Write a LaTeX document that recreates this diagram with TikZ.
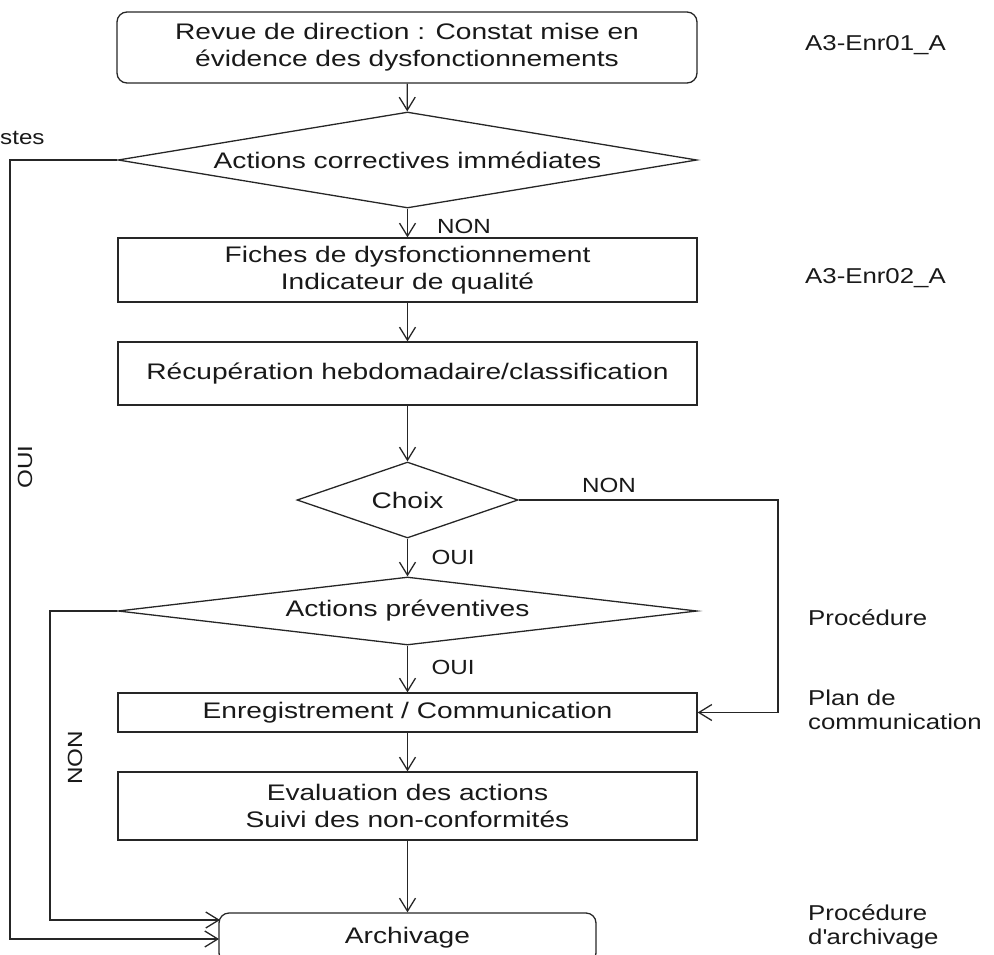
\documentclass[tikz,border=0pt]{standalone}
\usepackage{fontspec}
\setmainfont{Liberation Sans}[FakeStretch=1.18]
\newfontfamily\boxfont{Liberation Sans}[FakeStretch=1.25]
\newfontfamily\sidefont{Liberation Sans}[FakeStretch=1.2]
\usetikzlibrary{shapes.geometric,arrows.meta}
\begin{document}
\begin{tikzpicture}[x=1pt,y=-1pt,
  font=\fontsize{20.5}{27}\selectfont,
  every node/.style={text=black!90},
  box/.style={draw=black!85, line width=1.3pt, minimum width=579pt, inner sep=0pt, align=center,
    font=\boxfont\fontsize{22.5}{27}\selectfont},
  rbox/.style={box, rounded corners=10pt},
  dia/.style={draw=black!85, line width=1.3pt, diamond, inner sep=0pt, align=center,
    font=\boxfont\fontsize{22.5}{27}\selectfont},
  arr/.style={draw=black!85, line width=1.3pt, -{Straight Barb[length=13pt,width=16pt]}},
  side/.style={anchor=west, align=left, inner sep=0pt, font=\sidefont\fontsize{21.5}{24}\selectfont},
  lbl/.style={inner sep=0pt}
]
\useasboundingbox (0,0) rectangle (994,954);

% main flow
\node[rbox, minimum width=580pt, minimum height=71pt] (top) at (407,47.5)
  {Revue de direction : Constat mise en\\évidence des dysfonctionnements};
\node[dia, minimum width=579pt, minimum height=96pt, aspect=6] (d1) at (407.5,160)
  {Actions correctives immédiates};
\node[box, minimum height=64pt] (fiche) at (407.5,270)
  {Fiches de dysfonctionnement\\Indicateur de qualité};
\node[box, minimum height=63pt] (recup) at (407.5,373.5)
  {Récupération hebdomadaire/classification};
\node[dia, minimum width=221pt, minimum height=76pt, aspect=3] (choix) at (407.5,500)
  {Choix};
\node[dia, minimum width=579pt, minimum height=68pt, aspect=8.5] (d2) at (407.5,611)
  {Actions préventives};
\node[box, minimum height=39pt] (enr) at (407.5,712.5)
  {Enregistrement / Communication};
\node[box, minimum height=68pt] (eval) at (407.5,806)
  {Evaluation des actions\\Suivi des non-conformités};
\node[rbox, minimum width=377pt, minimum height=50pt] (arch) at (407.5,938)
  {Archivage};

% side notes
\node[side] (n1) at (805,45) {A3-Enr01\_A};
\node[side] (n2) at (805,278) {A3-Enr02\_A};
\node[side] (n3) at (808,618) {Procédure};
\node[side] (n4) at (808,710) {Plan de\\communication};
\node[side] (n5) at (808,927) {Procédure\\d\textquotesingle archivage};
\node[lbl, anchor=west] (cut) at (0,138) {stes};

% vertical flow connectors
\draw[arr] (top) -- (d1);
\draw[arr] (d1) -- (fiche);
\draw[arr] (fiche) -- (recup);
\draw[arr] (recup) -- (choix);
\draw[arr] (choix) -- (d2);
\draw[arr] (d2) -- (enr);
\draw[arr] (enr) -- (eval);
\draw[arr] (eval) -- (arch);

% labels on flow
\node[lbl] (lnon1) at (464,226) {NON};
\node[lbl] (loui1) at (453,557) {OUI};
\node[lbl] (loui2) at (453,667) {OUI};
\node[lbl] (lnon2) at (609,485) {NON};

% branch: Choix NON -> Enregistrement
\coordinate (cr) at (778,500);
\draw[arr] (choix.east) -- (cr) |- (enr.east);

% branch: actions correctives OUI -> Archivage
\coordinate (c1) at (10,160);
\coordinate (c1b) at (10,939);
\coordinate (a1) at (219,939);
\draw[arr] (d1.west) -- (c1) -- (c1b) -- (a1);
\node[lbl, rotate=90] (loui3) at (25,467) {OUI};

% branch: actions preventives NON -> Archivage
\coordinate (c2) at (50,611);
\coordinate (c2b) at (50,920);
\coordinate (a2) at (220,920);
\draw[arr] (d2.west) -- (c2) -- (c2b) -- (a2);
\node[lbl, rotate=90] (lnon3) at (75,758) {NON};
\end{tikzpicture}
\end{document}
